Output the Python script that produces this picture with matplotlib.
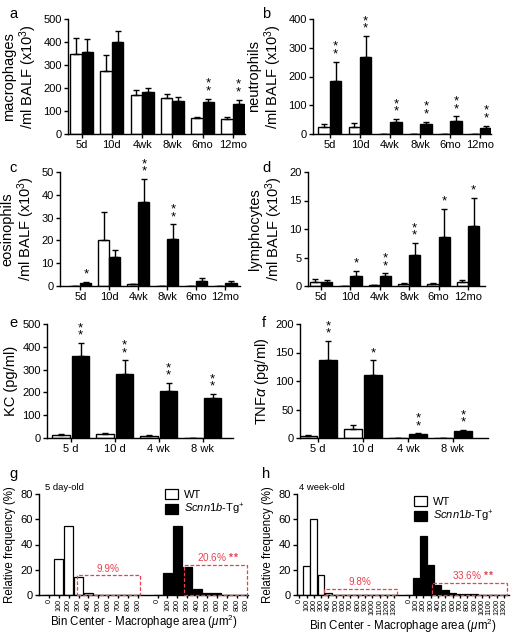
import matplotlib
matplotlib.use("Agg")
import matplotlib.pyplot as plt
from matplotlib.patches import Rectangle, Patch
import numpy as np

plt.rcParams['font.family'] = ['Liberation Sans', 'DejaVu Sans']
plt.rcParams['mathtext.fontset'] = 'custom'
plt.rcParams['mathtext.rm'] = 'Liberation Sans'
plt.rcParams['mathtext.it'] = 'Liberation Sans:italic'
plt.rcParams['mathtext.bf'] = 'Liberation Sans:bold'

# ---------------- data ----------------
groups_ad = ['5d', '10d', '4wk', '8wk', '6mo', '12mo']
mac_wt = [348, 272, 171, 155, 70, 65]
mac_wt_err = [69, 72, 22, 19, 4, 10]
mac_tg = [356, 400, 181, 145, 141, 132]
mac_tg_err = [58, 50, 17, 16, 13, 17]
mac_sig = ['', '', '', '', '**', '**']

neu_wt = [24, 24, 1, 0.5, 1, 1]
neu_wt_err = [11, 14, 0, 0, 0, 0]
neu_tg = [183, 269, 43, 35, 45, 20]
neu_tg_err = [69, 72, 9, 8, 16, 9]
neu_sig = ['**', '**', '**', '**', '**', '**']

eos_wt = [0, 20, 0.9, 0.2, 0, 0]
eos_wt_err = [0, 12.5, 0.1, 0, 0, 0]
eos_tg = [1.2, 12.6, 36.7, 20.7, 2.0, 1.4]
eos_tg_err = [0.6, 3.2, 10.3, 6.3, 1.4, 0.9]
eos_sig = ['*', '', '**', '**', '', '']

lym_wt = [0.65, 0, 0.1, 0.35, 0.35, 0.75]
lym_wt_err = [0.55, 0, 0, 0.15, 0.1, 0.25]
lym_tg = [0.7, 1.8, 1.7, 5.4, 8.6, 10.6]
lym_tg_err = [0.4, 0.8, 0.5, 2.1, 4.9, 4.9]
lym_sig = ['', '*', '**', '**', '*', '*']

groups_ef = ['5 d', '10 d', '4 wk', '8 wk']
kc_wt = [13, 16, 10, 1]
kc_wt_err = [4, 6, 5, 0]
kc_tg = [358, 282, 205, 177]
kc_tg_err = [58, 58, 36, 16]
kc_sig = ['**', '**', '**', '**']

tnf_wt = [4, 16, 0.5, 0.5]
tnf_wt_err = [2, 7, 0, 0]
tnf_tg = [136, 111, 7, 12]
tnf_tg_err = [34, 25, 1, 1.5]
tnf_sig = ['**', '*', '**', '**']

bins_g = ['0', '100', '200', '300', '400', '500', '600', '700', '800', '900']
g_wt = [0, 28.5, 55, 14.6, 1.5, 0.3, 0, 0, 0, 0]
g_tg = [0, 17.2, 54.3, 22, 5.0, 1.8, 1.2, 0.3, 0, 0]
g_pct_wt = '9.9%'
g_pct_tg = '20.6%'

bins_h = ['0', '100', '200', '300', '400', '500', '600', '700', '800', '900',
          '1000', '1100', '1200', '1300']
h_wt = [0, 23, 60, 16, 1.3, 0, 0, 0, 0, 0, 0, 0, 0, 0]
h_tg = [0, 13.2, 46.4, 23.8, 7.7, 4.0, 1.9, 1.0, 0.8, 0.5, 0.2, 0.1, 0.1, 0.1]
h_pct_wt = '9.8%'
h_pct_tg = '33.6%'

W, H = 517, 640
fig = plt.figure(figsize=(W / 100, H / 100), dpi=100)
RED = '#e8404f'


def px_axes(l, t, r, b):
    return fig.add_axes([l / W, 1 - b / H, (r - l) / W, (b - t) / H])


def style(ax):
    for s in ['top', 'right']:
        ax.spines[s].set_visible(False)
    for s in ['left', 'bottom']:
        ax.spines[s].set_linewidth(1.0)
    ax.tick_params(direction='out', length=3, width=1.0, labelsize=8, pad=1.5)


def stars(ax, x, y, s, ymax):
    if not s:
        return
    off = ymax * 0.012
    if s == '**':
        ax.text(x, y + off, '*\n*', ha='center', va='bottom', fontsize=9.5,
                linespacing=0.5)
    else:
        ax.text(x, y + off, '*', ha='center', va='bottom', fontsize=9.5)


def barpanel(rect, groups, wt, wte, tg, tge, sig, ymax, yticks, ylabel,
             xlim, width, off, letter, letter_xy):
    ax = px_axes(*rect)
    style(ax)
    x = np.arange(len(groups))
    ax.bar(x - off, wt, width, color='white', edgecolor='black', lw=1.0, zorder=2)
    ax.bar(x + off, tg, width, color='black', edgecolor='black', lw=1.0, zorder=2)
    ax.errorbar(x - off, wt, yerr=[np.zeros(len(wt)), wte], fmt='none',
                ecolor='black', elinewidth=1.0, capsize=2.5, capthick=1.0, zorder=3)
    ax.errorbar(x + off, tg, yerr=[np.zeros(len(tg)), tge], fmt='none',
                ecolor='black', elinewidth=1.0, capsize=2.5, capthick=1.0, zorder=3)
    for i in range(len(groups)):
        stars(ax, x[i] + off, tg[i] + tge[i], sig[i], ymax)
    ax.set_ylim(0, ymax)
    ax.set_yticks(yticks)
    ax.set_xlim(*xlim)
    ax.set_xticks(x)
    ax.set_xticklabels(groups, fontsize=8)
    ax.set_ylabel(ylabel, fontsize=10.5, linespacing=1.1, labelpad=3)
    fig.text(letter_xy[0] / W, 1 - letter_xy[1] / H, letter, fontsize=10.5,
             ha='left', va='center')
    return ax


lab3 = r'(x10$^3$)'
barpanel((68, 19, 245, 134), groups_ad, mac_wt, mac_wt_err, mac_tg, mac_tg_err,
         mac_sig, 500, [0, 100, 200, 300, 400, 500],
         'macrophages\n/ml BALF ' + lab3, (-0.45, 5.4), 0.38, 0.19, 'a', (9, 14))
barpanel((313, 19, 491, 134), groups_ad, neu_wt, neu_wt_err, neu_tg, neu_tg_err,
         neu_sig, 400, [0, 100, 200, 300, 400],
         'neutrophils\n/ml BALF ' + lab3, (-0.56, 5.35), 0.38, 0.19, 'b', (262, 14))
barpanel((60, 172, 240, 286), groups_ad, eos_wt, eos_wt_err, eos_tg, eos_tg_err,
         eos_sig, 50, [0, 10, 20, 30, 40, 50],
         'eosinophils\n/ml BALF ' + lab3, (-0.7, 5.5), 0.38, 0.19, 'c', (9, 168))
barpanel((308, 172, 485, 286), groups_ad, lym_wt, lym_wt_err, lym_tg, lym_tg_err,
         lym_sig, 20, [0, 5, 10, 15, 20],
         'lymphocytes\n/ml BALF ' + lab3, (-0.44, 5.58), 0.38, 0.19, 'd', (262, 168))
barpanel((47, 324, 233, 438), groups_ef, kc_wt, kc_wt_err, kc_tg, kc_tg_err,
         kc_sig, 500, [0, 100, 200, 300, 400, 500],
         'KC (pg/ml)', (-0.54, 3.69), 0.4, 0.225, 'e', (9, 323))
barpanel((300, 324, 488, 438), groups_ef, tnf_wt, tnf_wt_err, tnf_tg, tnf_tg_err,
         tnf_sig, 200, [0, 50, 100, 150, 200],
         r'TNF$\alpha$ (pg/ml)', (-0.4, 3.78), 0.4, 0.225, 'f', (262, 323))


def histpanel(rect, bins, wt, tg, offset, xlim, box_wt, box_tg, pct_wt, pct_tg,
              title, letter, letter_xy, leg_anchor):
    ax = px_axes(*rect)
    style(ax)
    n = len(bins)
    xw = np.arange(n)
    xt = np.arange(n) + offset
    ax.bar(xw, wt, 0.92, color='white', edgecolor='black', lw=0.9, zorder=2)
    ax.bar(xt, tg, 0.92, color='black', edgecolor='black', lw=0.9, zorder=2)
    ax.set_ylim(0, 80)
    ax.set_yticks([0, 20, 40, 60, 80])
    ax.set_xlim(*xlim)
    ax.set_xticks(list(xw) + list(xt))
    ax.set_xticklabels(list(bins) + list(bins), rotation=90, fontsize=5.2)
    ax.tick_params(axis='x', length=2, pad=1)
    ax.set_ylabel('Relative frequency (%)', fontsize=8.3, labelpad=3)
    ax.set_xlabel(r'Bin Center - Macrophage area ($\mu$m$^2$)', fontsize=8.3,
                  labelpad=1)
    for box in (box_wt, box_tg):
        x0, x1, top = box[0], box[1], box[2]
        ax.add_patch(Rectangle((x0, 0), x1 - x0, top, fill=False, ec=RED, lw=0.9,
                               ls=(0, (3, 1.5)), zorder=4, clip_on=False))
    ax.text(box_wt[3], box_wt[2] + 1.2, pct_wt, color=RED, fontsize=7.2,
            ha='center', va='bottom')
    ax.text(box_tg[3], box_tg[2] + 1.2, pct_tg + r' $\mathbf{**}$', color=RED,
            fontsize=7.2, ha='center', va='bottom')
    fig.text(letter_xy[0] / W, 1 - letter_xy[1] / H, letter, fontsize=10.5,
             ha='left', va='center')
    fig.text(title[1] / W, 1 - title[2] / H, title[0], fontsize=6.8, ha='left',
             va='center')
    handles = [Patch(facecolor='white', edgecolor='black', lw=0.9),
               Patch(facecolor='black', edgecolor='black', lw=0.9)]
    ax.legend(handles, ['WT', r'$\mathit{Scnn1b}$-Tg$^{+}$'], frameon=False,
              loc='upper left', bbox_to_anchor=leg_anchor,
              bbox_transform=fig.transFigure, fontsize=8, handlelength=1.2,
              handleheight=1.0, handletextpad=0.5, labelspacing=0.2,
              borderpad=0, borderaxespad=0)
    return ax


histpanel((39, 494, 248, 595), bins_g, g_wt, g_tg, 11, (-1.0, 20.15),
          (2.8, 9.2, 15.5, 6.0), (13.7, 20.0, 23.8, 17.1), g_pct_wt, g_pct_tg,
          ('5 day-old', 45, 488), 'g', (9, 474), (165 / W, 1 - 489 / H))
histpanel((297, 494, 509, 595), bins_h, h_wt, h_tg, 15, (-0.3, 28.7),
          (3.4, 13.4, 4.8, 8.3), (18.2, 28.4, 9.5, 23.8), h_pct_wt, h_pct_tg,
          ('4 week-old', 299, 488), 'h', (262, 474), (414 / W, 1 - 496 / H))

fig.savefig('out.png', dpi=100)
